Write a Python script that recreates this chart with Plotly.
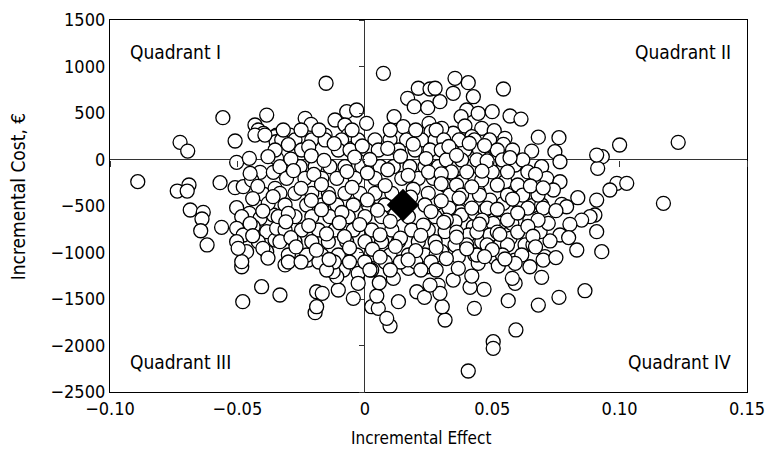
import plotly.graph_objects as go

# Bootstrap replicates: incremental effect (x) and incremental cost (y, EUR)
eff_outer = [-0.0152, 0.0073, 0.021, 0.0256, 0.0168, 0.0194, 0.0247, 0.0115, 0.0151, 0.0252, 0.026,
             -0.0234, -0.0211, -0.0071, -0.0032, -0.0117, -0.0078, 0.0007, -0.0294, -0.0346, -0.0156, -0.0065,
             0.0354, 0.0406, 0.0544, 0.0426, 0.0347, 0.0295, 0.0276, 0.04, 0.0445, 0.05, 0.057, 0.0613, 0.0378,
             0.0393, 0.0459, 0.0508, 0.0347, 0.0302, 0.0681, 0.0762, 0.055, 0.042,
             0.123, 0.100, 0.0932, 0.0914, 0.0989, 0.1028, 0.0962, 0.1172, 0.091, 0.0903, 0.091, 0.093,
             -0.0557, -0.0431, -0.0385, -0.0418, -0.0398, -0.0352]
cost_outer = [820, 927, 766, 758, 658, 568, 557, 460, 353, 389, 299,
              443, 378, 514, 532, 425, 371, 389, 263, 263, 263, 263,
              873, 826, 758, 675, 712, 622, 766, 532, 497, 514, 468, 435, 460,
              360, 335, 310, 282, 335, 240, 235, 228, 245,
              185, 156, 30, -95, -256, -256, -328, -471, -436, -597, -776, -991,
              450, 371, 478, 317, 280, 245]

eff_right = [0.0746, 0.0766, 0.0655, 0.0609, 0.0694, 0.091, 0.0714, 0.0766, 0.074, 0.0836, 0.0773, 0.0792,
             0.0657, 0.0694, 0.0602, 0.0544, 0.0884, 0.0851, 0.0805, 0.0766, 0.0727, 0.0688, 0.072, 0.0648,
             0.0577, 0.0531, 0.0832, 0.0707, 0.0629, 0.0589, 0.0531, 0.0459, 0.0426, 0.0354, 0.0315, 0.0374,
             0.0445, 0.0491, 0.055, 0.0544, 0.059, 0.0491, 0.0544, 0.0393, 0.0472, 0.0417, 0.0459, 0.038,
             0.0315, 0.0302, 0.0334, 0.0406, 0.0308, 0.038, 0.0432, 0.0472, 0.0504, 0.0354, 0.0406, 0.0491,
             0.057, 0.0616, 0.0511, 0.0432, 0.0367, 0.0302]
cost_right = [84, -24, 91, -41, -77, 48, -202, -239, -328, -411, -482, -508,
              -497, -489, -454, -471, -615, -651, -697, -812, -876, -776, -686, -651,
              -686, -686, -973, -1045, -919, -1081, -919, -884, -722, -919, -776, -561,
              -346, -436, -239, -59, -59, 156, 163, 102, 13, -77, -220, -239,
              -274, -95, -382, -417, -597, -597, -579, -543, -686, -669, -812, -812,
              -848, -1027, -1062, -1027, -1045, -991]

eff_low = [0.0315, 0.0304, 0.043, 0.0406, 0.0504, 0.0504, 0.0593, 0.0563, 0.0681, 0.0762, 0.0864, 0.0694,
           0.059, 0.0579, 0.0468, 0.0413, 0.042, 0.0347, 0.0367, 0.0288, 0.0295, 0.0648, 0.07, 0.0445,
           0.0524, 0.059,
           -0.0333, -0.0195, -0.0189, -0.0189, -0.0167, -0.0104, -0.0045, 0.0027, 0.0053, 0.0099, 0.0086,
           0.0047, 0.0132, 0.0057, 0.0112, 0.0204, 0.0234, 0.0256, 0.0171, 0.0247, -0.0084, -0.0026,
           -0.0026, -0.011, -0.0313, -0.0222, -0.0124, 0.0027,
           -0.0483, -0.0405, -0.0479]
cost_low = [-1726, -1583, -1600, -2274, -1959, -2030, -1833, -1518, -1565, -1482, -1411, -1267,
            -1331, -1278, -1396, -1374, -1253, -1296, -1170, -1350, -1439, -1153, -1081, -1116,
            -1145, -1116,
            -1457, -1647, -1583, -1422, -1439, -1403, -1493, -1583, -1600, -1790, -1708,
            -1468, -1529, -1325, -1278, -1422, -1482, -1350, -1170, -1153, -1188, -1224,
            -1331, -1260, -1134, -1081, -1206, -1188,
            -1153, -1368, -1529]

eff_left = [-0.0725, -0.0695, -0.0509, -0.0503, -0.0453, -0.0411, -0.0359, -0.0346, -0.0348, -0.0431,
            -0.0392, -0.0891, -0.0736, -0.069, -0.0697, -0.0568, -0.0509, -0.0477, -0.0444, -0.0396,
            -0.0352, -0.0685, -0.0634, -0.0639, -0.0644, -0.0562, -0.0619, -0.0503, -0.0453, -0.0483,
            -0.0411, -0.0359, -0.0379, -0.0503, -0.0438, -0.0385, -0.0477, -0.0503, -0.0418, -0.0464,
            -0.0385, -0.0352, -0.0346, -0.0483, -0.0497]
cost_left = [185, 91, 199, -30, 13, -138, -138, 13, 191, 263,
             263, -238, -339, -274, -339, -249, -303, -292, -220, -374,
             -310, -543, -568, -640, -766, -729, -919, -518, -579, -615,
             -632, -597, -471, -740, -722, -776, -812, -884, -884, -991,
             -991, -866, -740, -1099, -955]

eff_core = [-0.0326, -0.0274, -0.0208, -0.0156, -0.0091, -0.0026, 0.004, 0.0099, 0.0164, 0.0223, 0.0276,
            -0.0352, -0.0248, -0.0104, -0.0058, 0.0007, 0.0053, 0.0132, 0.0197, 0.0256,
            -0.0333, -0.0254, -0.0195, -0.0137, -0.0078, -0.0012, 0.006, 0.0112, 0.0177, 0.0236, 0.0289,
            -0.0307, -0.0235, -0.0169, -0.011, -0.0038, 0.004, 0.0145, 0.021, 0.0269,
            -0.0333, -0.0274, -0.0208, -0.0143, -0.0078, -0.0019, 0.004, 0.0106, 0.0249,
            -0.0313, -0.0228, -0.0169, -0.011, -0.0045, 0.0014, 0.0079, 0.0236,
            -0.034, -0.0274, -0.0208, -0.0137, -0.0065, 0.0001, 0.0066, 0.0171, 0.0276,
            -0.0313, -0.0248, -0.0182, -0.0117, -0.0045, 0.0027, 0.0106, 0.0184, 0.0249,
            -0.0333, -0.0274, -0.0208, -0.0143, -0.0071, 0.0001, 0.0066, 0.0132, 0.021, 0.0276,
            -0.03, -0.0228, -0.0169, -0.0104, -0.0032, 0.004, 0.0099, 0.0171, 0.0236,
            -0.032, -0.025, -0.018, -0.005, 0.010, 0.020, 0.028,
            0.031, 0.037, 0.043, 0.049, 0.030, 0.034, 0.045, 0.052, 0.058,
            0.032, 0.038, 0.044, 0.054, 0.062, 0.034, 0.040, 0.050, 0.056, 0.064,
            0.036, 0.052, 0.060, 0.038, 0.045, 0.056, 0.062, 0.068,
            0.033, 0.042, 0.048, 0.064, 0.070, 0.032, 0.046, 0.056, 0.068,
            0.036, 0.044, 0.052, 0.060, 0.040, 0.048, 0.056, 0.066, 0.028, 0.044, 0.054,
            -0.030, -0.025, -0.018, -0.012, -0.006, 0.000, 0.008, 0.014, 0.020, 0.026,
            -0.015, 0.002, 0.010, 0.022, 0.028]
cost_core = [210, 210, 210, 210, 210, 210, 210, 210, 210, 210, 210,
             102, 102, 102, 102, 102, 102, 102, 102, 102,
             -77, -77, -77, -77, -77, -77, -77, -77, -77, -77, -77,
             -202, -202, -202, -202, -202, -202, -202, -202, -202,
             -364, -364, -364, -364, -364, -364, -364, -364, -364,
             -489, -489, -489, -489, -489, -489, -489, -489,
             -615, -615, -615, -615, -615, -615, -615, -615, -615,
             -758, -758, -758, -758, -758, -758, -758, -758, -758,
             -884, -884, -884, -884, -884, -884, -884, -884, -884, -884,
             -1027, -1027, -1027, -1027, -1027, -1027, -1027, -1027, -1027,
             317, 317, 317, 317, 317, 317, 317,
             210, 210, 210, 210, 102, 102, 102, 102, 102,
             -5, -5, -5, -5, -5, -134, -134, -134, -134, -134,
             -274, -274, -274, -382, -382, -382, -382, -382,
             -522, -522, -522, -522, -522, -651, -651, -651, -651,
             -780, -780, -780, -780, -919, -919, -919, -919, -1027, -1027, -1027,
             -1102, -1102, -1102, -1102, -1102, -1102, -1102, -1102, -1102, -1102,
             -1188, -1188, -1188, -1188, -1188]

# further replicates hidden in the crowded middle of the cloud
eff_fill = [-0.030, -0.022, -0.012, -0.001, 0.009, 0.019, 0.033, 0.041, 0.047,
            -0.038, -0.029, -0.021, -0.016, -0.004, 0.002, 0.014, 0.024, 0.036, 0.048, 0.057,
            -0.045, -0.028, -0.020, -0.007, 0.001, 0.009, 0.017, 0.025, 0.030, 0.046, 0.067,
            -0.042, -0.025, -0.017, -0.005, 0.008, 0.019, 0.030, 0.042, 0.065, 0.070,
            -0.044, -0.036, -0.021, -0.014, 0.001, 0.018, 0.030, 0.037, 0.058,
            -0.040, -0.030, -0.017, -0.009, 0.005, 0.012, 0.026, 0.052, 0.060, 0.075,
            -0.045, -0.031, -0.022, -0.010, -0.002, 0.010, 0.023, 0.031, 0.045, 0.064,
            -0.044, -0.029, -0.015, -0.008, 0.006, 0.014, 0.022, 0.036, 0.053, 0.066, 0.080,
            -0.040, -0.027, -0.019, -0.006, 0.003, 0.012, 0.020, 0.028, 0.040, 0.050, 0.067,
            -0.038, -0.014, 0.006, 0.017, 0.032, 0.047, 0.055, 0.075]
cost_fill = [160, 135, 170, 145, 120, 165, 140, 175, 150,
             30, 5, 40, -10, 25, 0, 35, 10, 45, -15, 20,
             -150, -120, -160, -130, -145, -110, -170, -135, -155, -125, -160,
             -290, -310, -270, -300, -280, -320, -260, -295, -285, -305,
             -420, -400, -440, -410, -435, -405, -445, -415, -425,
             -555, -580, -540, -570, -545, -590, -560, -535, -575, -550,
             -690, -670, -710, -680, -700, -665, -705, -675, -695, -720,
             -820, -840, -800, -830, -810, -845, -815, -835, -805, -825, -840,
             -955, -940, -975, -950, -965, -935, -980, -945, -960, -970, -940,
             -1060, -1075, -1050, -1080, -1065, -1045, -1070, -1055]

mean_eff = [0.015]
mean_cost = [-490]

x_ticks = [-0.10, -0.05, 0, 0.05, 0.10, 0.15]
x_tick_text = ["\u22120.10", "\u22120.05", "0", "0.05", "0.10", "0.15"]
y_ticks = [1500, 1000, 500, 0, -500, -1000, -1500, -2000, -2500]
y_tick_text = ["1500", "1000", "500", "0", "\u2212500", "\u22121000", "\u22121500", "\u22122000", "\u22122500"]
quadrant_labels = ["Quadrant I", "Quadrant II", "Quadrant III", "Quadrant IV"]

FONT = "Liberation Sans Narrow, DejaVu Sans Condensed, Arial Narrow, Roboto, sans-serif"

xs = eff_outer + eff_right + eff_low + eff_left + eff_core + eff_fill
ys = cost_outer + cost_right + cost_low + cost_left + cost_core + cost_fill

fig = go.Figure()
fig.add_trace(go.Scatter(
    x=xs, y=ys, mode="markers",
    marker=dict(symbol="circle", size=14, color="white", line=dict(color="black", width=1.3)),
    showlegend=False, hoverinfo="skip"))
fig.add_trace(go.Scatter(
    x=mean_eff, y=mean_cost, mode="markers",
    marker=dict(symbol="diamond", size=25, color="black", line=dict(color="black", width=0)),
    showlegend=False, hoverinfo="skip"))
# invisible trace on the crossing axes so they are drawn
fig.add_trace(go.Scatter(x=[0], y=[0], xaxis="x2", yaxis="y2", mode="markers",
                         marker=dict(opacity=0), showlegend=False, hoverinfo="skip"))

xr = [-0.10, 0.15]
yr = [-2500, 1500]

fig.update_layout(
    width=769, height=452,
    margin=dict(l=110, r=22, t=20, b=60),
    paper_bgcolor="white", plot_bgcolor="white",
    font=dict(family=FONT, size=18, color="black"),
    xaxis=dict(range=xr, tickvals=x_ticks, ticktext=x_tick_text, ticks="", showgrid=False,
               showline=True, mirror=True, linecolor="black", linewidth=1.3, automargin=False,
               zeroline=True, zerolinecolor="#333333", zerolinewidth=1.2,
               tickfont=dict(size=18)),
    yaxis=dict(range=yr, tickvals=y_ticks, ticktext=y_tick_text, ticks="", showgrid=False,
               showline=True, mirror=True, linecolor="black", linewidth=1.3, automargin=False,
               zeroline=True, zerolinecolor="#333333", zerolinewidth=1.2,
               tickfont=dict(size=18)),
    xaxis2=dict(range=xr, overlaying="x", anchor="free", position=(0 - yr[0]) / (yr[1] - yr[0]),
                tickvals=x_ticks, ticks="outside", ticklen=6, tickcolor="#333333", tickwidth=1.2,
                showticklabels=False, showgrid=False, zeroline=False, showline=False, automargin=False),
    yaxis2=dict(range=yr, overlaying="y", anchor="free", side="left",
                position=(0 - xr[0]) / (xr[1] - xr[0]),
                tickvals=y_ticks, ticks="outside", ticklen=6, tickcolor="#333333", tickwidth=1.2,
                showticklabels=False, showgrid=False, zeroline=False, showline=False, automargin=False),
)

fig.add_annotation(text="Incremental Effect", xref="paper", yref="paper", x=0.488, y=-0.124,
                   showarrow=False, font=dict(size=17), xanchor="center", yanchor="middle")
fig.add_annotation(text="Incremental Cost, \u20ac", xref="paper", yref="paper", x=-0.144, y=0.524,
                   showarrow=False, font=dict(size=19), textangle=-90, xanchor="center", yanchor="middle")

q_pos = [(0.028, 0.915, "left"), (0.978, 0.915, "right"), (0.028, 0.081, "left"), (0.978, 0.081, "right")]
for label, (qx, qy, anc) in zip(quadrant_labels, q_pos):
    fig.add_annotation(text=label, xref="paper", yref="paper", x=qx, y=qy, showarrow=False,
                       xanchor=anc, yanchor="middle", font=dict(size=19))

fig.write_html("out.html")
